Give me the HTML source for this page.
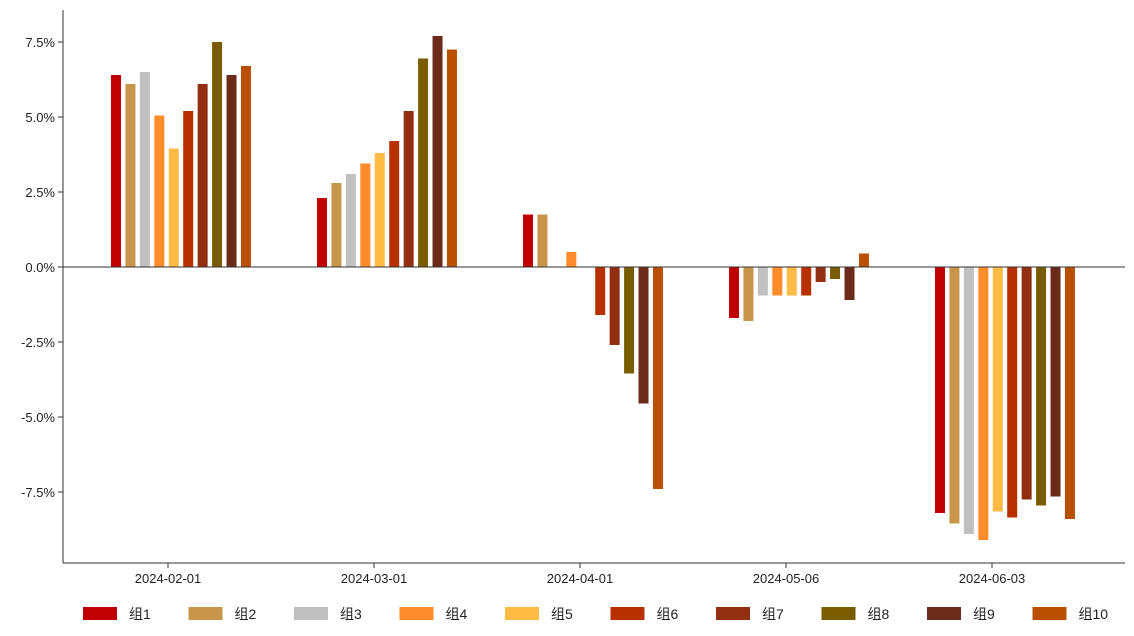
<!DOCTYPE html>
<html><head><meta charset="utf-8"><style>
body{margin:0;background:#fff;}
svg{display:block;font-family:"Liberation Sans","Noto Sans CJK SC",sans-serif;}
</style></head><body>
<svg id="chart" width="1134" height="636"></svg>
<script>
const categories=["2024-02-01","2024-03-01","2024-04-01","2024-05-06","2024-06-03"];
const seriesNames=["组1","组2","组3","组4","组5","组6","组7","组8","组9","组10"];
const colors=["#c00000","#c8964b","#c0c0c0","#ff8c2a","#ffbb44","#b83000","#922f10","#7a5c00","#6b2a1a","#b85000"];
const values=[
 [6.4,2.3,1.75,-1.7,-8.2],
 [6.1,2.8,1.75,-1.8,-8.55],
 [6.5,3.1,0,-0.95,-8.9],
 [5.05,3.45,0.5,-0.95,-9.1],
 [3.95,3.8,0,-0.95,-8.15],
 [5.2,4.2,-1.6,-0.95,-8.35],
 [6.1,5.2,-2.6,-0.5,-7.75],
 [7.5,6.95,-3.55,-0.4,-7.95],
 [6.4,7.7,-4.55,-1.1,-7.65],
 [6.7,7.25,-7.4,0.45,-8.4]
];
const yTicks=[7.5,5,2.5,0,-2.5,-5,-7.5];
const yTickLabels=["7.5%","5.0%","2.5%","0.0%","-2.5%","-5.0%","-7.5%"];
const NS="http://www.w3.org/2000/svg";
const svg=document.getElementById("chart");
function y(v){return 267-v*30;}
function xc(i){return 168+i*206;}
function mk(t,a){const e=document.createElementNS(NS,t);for(const k in a)e.setAttribute(k,a[k]);svg.appendChild(e);return e;}
values.forEach((arr,s)=>{arr.forEach((v,i)=>{
 const cx=xc(i)-52+s*14.44;
 const r=mk("rect",{x:cx-5,y:Math.min(y(v),y(0)),width:10,height:Math.abs(y(v)-y(0)),fill:colors[s]});
 
 
});});
const z=mk("line",{x1:63,x2:1125,y1:y(0),y2:y(0),stroke:"#333","stroke-width":1});

const ya=mk("line",{x1:63,x2:63,y1:10,y2:563,stroke:"#333","stroke-width":1});

const xa=mk("line",{x1:63,x2:1125,y1:563,y2:563,stroke:"#333","stroke-width":1});

yTicks.forEach((t,i)=>{
 mk("line",{x1:58,x2:63,y1:y(t),y2:y(t),stroke:"#333"});
 const tx=mk("text",{x:55,y:y(t)+5,"text-anchor":"end","font-size":13,fill:"#222"});
 tx.textContent=yTickLabels[i];
 
});
categories.forEach((c,i)=>{
 mk("line",{x1:xc(i),x2:xc(i),y1:563,y2:568,stroke:"#333"});
 const tx=mk("text",{x:xc(i),y:583,"text-anchor":"middle","font-size":13,fill:"#222"});
 tx.textContent=c;
 
});
seriesNames.forEach((n,s)=>{
 const lx=83+s*105.5;
 const g=document.createElementNS(NS,"g");svg.appendChild(g);
 
 
 const r=document.createElementNS(NS,"rect");
 r.setAttribute("x",lx);r.setAttribute("y",607);r.setAttribute("width",34);r.setAttribute("height",13);r.setAttribute("fill",colors[s]);
 g.appendChild(r);
 const t=document.createElementNS(NS,"text");
 t.setAttribute("x",lx+46);t.setAttribute("y",619);t.setAttribute("font-size",14);t.setAttribute("fill","#222");
 t.textContent=n;g.appendChild(t);
});
</script>
</body></html>
